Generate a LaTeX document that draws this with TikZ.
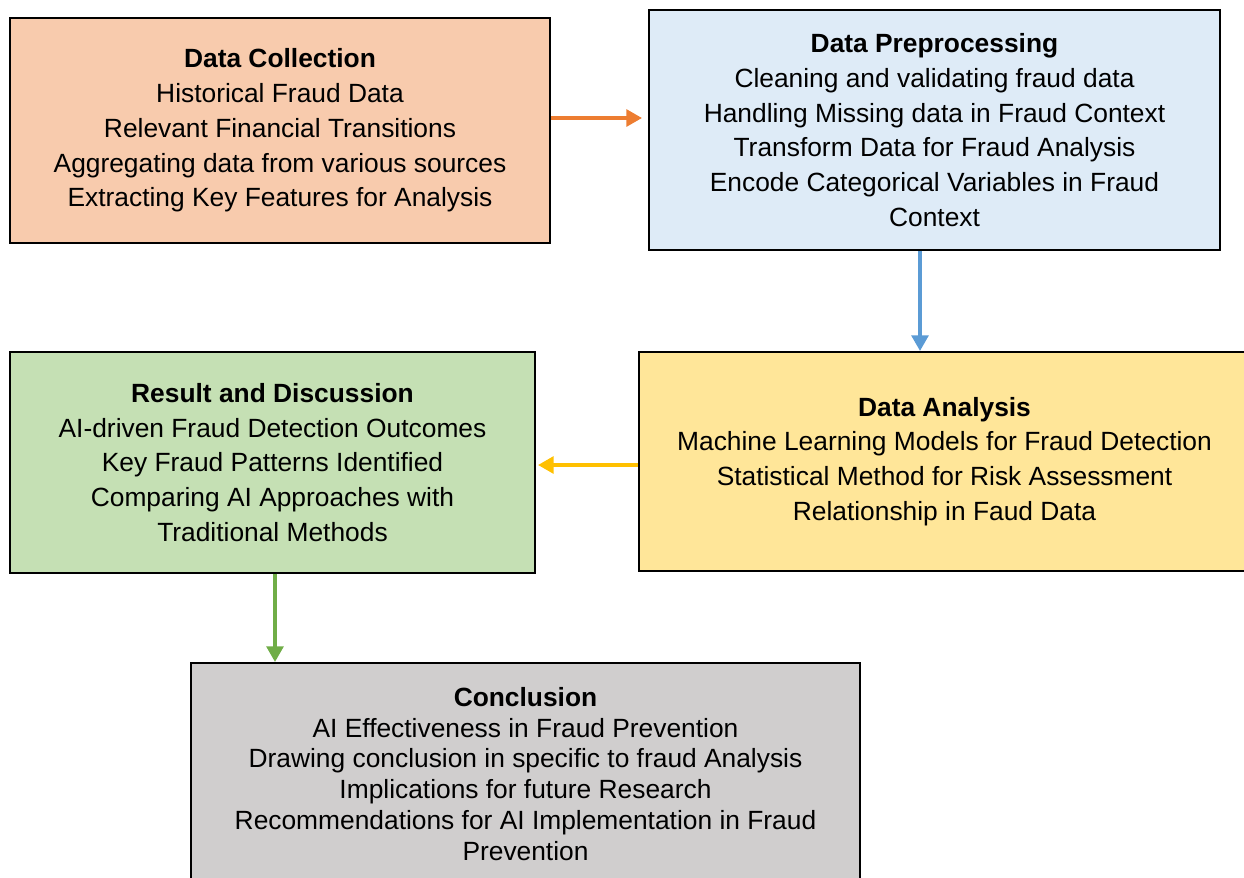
\documentclass[tikz,border=0pt]{standalone}
\usepackage{fontspec}
\setmainfont{Liberation Sans}
\usetikzlibrary{arrows.meta}
\definecolor{collfill}{HTML}{F8CBAD}
\definecolor{prepfill}{HTML}{DEEBF7}
\definecolor{analfill}{HTML}{FFE699}
\definecolor{resfill}{HTML}{C5E0B4}
\definecolor{concfill}{HTML}{D0CECE}
\definecolor{arrorange}{HTML}{ED7D31}
\definecolor{arrblue}{HTML}{5B9BD5}
\definecolor{arryellow}{HTML}{FFC000}
\definecolor{arrgreen}{HTML}{70AD47}
\begin{document}
\begin{tikzpicture}[x=0.02cm,y=-0.02cm,
  stage/.style={draw=black,line width=1.1pt,inner sep=0pt,align=center,
    font=\fontsize{15}{19.8}\selectfont},
  flow/.style={line width=2.3pt,-{Triangle[length=9pt,width=9.5pt]}}]
\clip(0,0)rectangle(1244,877);
\node[stage,fill=collfill,minimum width=10.8cm,minimum height=4.5cm](coll)at(280,130.5)
  {\textbf{Data Collection}\\Historical Fraud Data\\Relevant Financial Transitions\\
   Aggregating data from various sources\\Extracting Key Features for Analysis};
\node[stage,fill=prepfill,minimum width=11.42cm,minimum height=4.8cm](prep)at(934.5,130)
  {\textbf{Data Preprocessing}\\Cleaning and validating fraud data\\Handling Missing data in Fraud Context\\
   Transform Data for Fraud Analysis\\Encode Categorical Variables in Fraud\\Context};
\node[stage,fill=analfill,minimum width=12.22cm,minimum height=4.38cm](anal)at(944.5,461.5)
  {\textbf{Data Analysis}\\Machine Learning Models for Fraud Detection\\
   Statistical Method for Risk Assessment\\Relationship in Faud Data};
\node[stage,fill=resfill,minimum width=10.5cm,minimum height=4.42cm](res)at(272.5,462.5)
  {\textbf{Result and Discussion}\\AI-driven Fraud Detection Outcomes\\Key Fraud Patterns Identified\\
   Comparing AI Approaches with\\Traditional Methods};
\node[stage,fill=concfill,minimum width=13.38cm,minimum height=4.44cm,
  font=\fontsize{15}{17.6}\selectfont](conc)at(525.5,774)
  {\textbf{Conclusion}\\AI Effectiveness in Fraud Prevention\\Drawing conclusion in specific to fraud Analysis\\
   Implications for future Research\\Recommendations for AI Implementation in Fraud\\Prevention};
% arrows between the stages
\draw[flow,arrorange]([yshift=0.25cm]coll.east)--([yshift=0.25cm,xshift=-0.12cm]coll.east-|prep.west);
\draw[flow,arrblue]([xshift=-0.29cm]prep.south)--([xshift=-0.29cm]prep.south|-anal.north);
\draw[flow,arryellow]([yshift=-0.07cm]anal.west)--([yshift=-0.07cm,xshift=0.04cm]anal.west-|res.east);
\draw[flow,arrgreen]([xshift=0.05cm]res.south)--([xshift=0.05cm]res.south|-conc.north);
\end{tikzpicture}
\end{document}
